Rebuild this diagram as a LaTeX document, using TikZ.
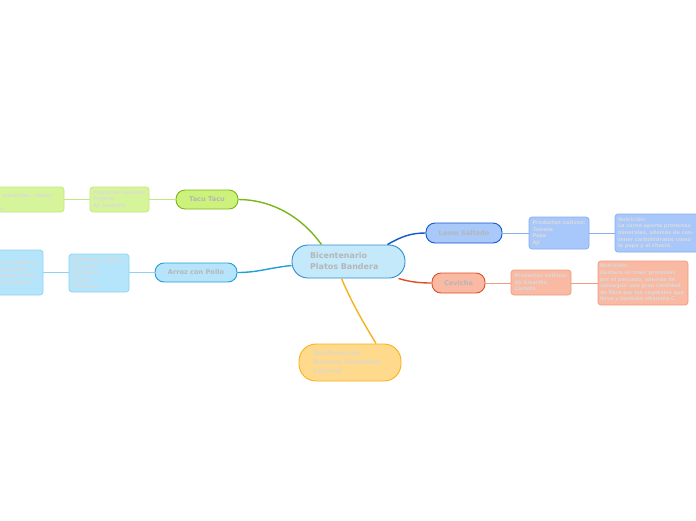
\documentclass[tikz,border=0pt]{standalone}
\usepackage{fontspec}
\setmainfont{DejaVu Sans}
\usetikzlibrary{calc}
\definecolor{maintext}{HTML}{B6B6B6}
\definecolor{subtext}{HTML}{DADADA}
\definecolor{reatext}{HTML}{E0D8C2}
\definecolor{cenfill}{HTML}{C4E9FA}\definecolor{cenline}{HTML}{2F8CCF}
\definecolor{tacfill}{HTML}{CDF27C}\definecolor{tacline}{HTML}{7CB518}
\definecolor{tacsub}{HTML}{D6F59A}\definecolor{tacsubl}{HTML}{C2E77E}
\definecolor{arrfill}{HTML}{B6E4FA}\definecolor{arrline}{HTML}{229EDB}
\definecolor{arrsub}{HTML}{B5E5FB}\definecolor{arrsubl}{HTML}{8ED2F2}
\definecolor{lomfill}{HTML}{A8C9FA}\definecolor{lomline}{HTML}{1456CC}
\definecolor{lomsub}{HTML}{A8C8FB}\definecolor{lomsubl}{HTML}{86AEF0}
\definecolor{cevfill}{HTML}{F9B9A2}\definecolor{cevline}{HTML}{E24E24}
\definecolor{cevsub}{HTML}{F9B9A2}\definecolor{cevsubl}{HTML}{F09C80}
\definecolor{reafill}{HTML}{FFD98C}\definecolor{realine}{HTML}{F7B21A}
\begin{document}
\begin{tikzpicture}[x=1pt,y=-1pt,
  topic/.style={draw, line width=0.9pt, inner sep=0pt, text=maintext,
    font=\fontsize{6.6}{8.5}\selectfont\bfseries},
  subbox/.style={draw, line width=0.7pt, rounded corners=3pt, inner xsep=0pt, inner ysep=0pt,
    align=left, text=subtext, font=\fontsize{5}{6.6}\selectfont\bfseries},
  branch/.style={line width=1.4pt},
  twig/.style={line width=0.7pt}]
\useasboundingbox (0,0) rectangle (696,520);
\clip (0,0) rectangle (696,520);

% central
\node[topic, fill=cenfill, draw=cenline, minimum width=113, minimum height=33,
  rounded corners=16pt, text width=77, align=left,
  font=\fontsize{8}{11}\selectfont\bfseries] (cen) at (348.5,261.5) {Bicentenario\\Platos Bandera};

% Tacu Tacu
\node[topic, fill=tacfill, draw=tacline, minimum width=62, minimum height=19,
  rounded corners=9pt] (tac) at (207,199.5) {Tacu Tacu};
\node[subbox, fill=tacsub, draw=tacsubl, minimum width=59, minimum height=25,
  text width=53] (tacp) at (119.5,199.5) {Productos nativos:\\*Frejoles\\*Ají Amarillo};
\node[subbox, fill=tacsub, draw=tacsubl, minimum width=96, minimum height=25,
  text width=88] (tacn) at (16,199.5) {Nutrición:\\Proteínas, minerales, vitaminas\\y proteínas.};

% Arroz con Pollo
\node[topic, fill=arrfill, draw=arrline, minimum width=82, minimum height=19,
  rounded corners=9pt] (arr) at (196,272.5) {Arroz con Pollo};
\node[subbox, fill=arrsub, draw=arrsubl, minimum width=60, minimum height=38,
  text width=53] (arrp) at (99,273) {Productos nativos:\\*Ají verde\\*Ají Panca\\*Choclo\\*Pimiento};
\node[subbox, fill=arrsub, draw=arrsubl, minimum width=92, minimum height=45,
  text width=84] (arrn) at (-3,272.5) {Nutrición:\\Al comer la carne, se obtiene\\hierro, al llevar vegetales\\se obtienen minerales y vita-\\minas; de la papa; carbohi-\\dratos.};

% Lomo Saltado
\node[topic, fill=lomfill, draw=lomline, minimum width=76, minimum height=20,
  rounded corners=9pt] (lom) at (464,233) {Lomo Saltado};
\node[subbox, fill=lomsub, draw=lomsubl, minimum width=60, minimum height=32,
  text width=53] (lomp) at (559,233) {Productos nativos:\\*Tomate\\*Papa\\*Ají};
\node[subbox, fill=lomsub, draw=lomsubl, minimum width=86, minimum height=38,
  text width=80] (lomn) at (658,233) {Nutrición:\\La carne aporta proteínas\\minerales, además de con-\\tener carbohidratos como\\la papa y el choclo.};

% Ceviche
\node[topic, fill=cevfill, draw=cevline, minimum width=53, minimum height=20,
  rounded corners=9pt] (cev) at (458.5,283) {Ceviche};
\node[subbox, fill=cevsub, draw=cevsubl, minimum width=60, minimum height=25,
  text width=53] (cevp) at (541,282.5) {Productos nativos:\\*Ají Amarillo\\*Camote};
\node[subbox, fill=cevsub, draw=cevsubl, minimum width=90, minimum height=44,
  text width=86] (cevn) at (643,283) {Nutrición:\\Destaca en traer proteínas\\por el pescado, además de\\conseguir una gran cantidad\\de fibra por los vegetales que\\lleva y también vitamina C.};

% Reafirmando
\node[topic, fill=reafill, draw=realine, minimum width=102, minimum height=37,
  rounded corners=17pt, text width=74, align=left, text=reatext,
  font=\fontsize{6.6}{9}\selectfont\bfseries] (rea) at (350,362.5) {Reafirmando\\Nuestra Identidad\\Cultural};

% branches
\draw[branch, draw=tacline] ([xshift=-27pt]cen.north) .. controls (298,212) and (266,199.5) .. (tac.east);
\draw[branch, draw=arrline] ([yshift=-4pt]cen.west) .. controls (268,268) and (258,272.5) .. (arr.east);
\draw[branch, draw=lomline] ([xshift=39pt]cen.north) .. controls (402,236) and (412,233) .. (lom.west);
\draw[branch, draw=cevline] ([xshift=50pt]cen.south) .. controls (410,282) and (420,283) .. (cev.west);
\draw[branch, draw=realine] ([xshift=-7pt]cen.south) .. controls (354,308) and (368,330) .. ([xshift=26pt]rea.north);

% twigs
\draw[twig, draw=tacsubl] (tac.west) -- (tacp.east);
\draw[twig, draw=tacsubl] (tacp.west) -- (tacn.east);
\draw[twig, draw=arrsubl] (arr.west) -- (arrp.east |- arr.west);
\draw[twig, draw=arrsubl] (arrp.west |- arr.west) -- (arrn.east |- arr.west);
\draw[twig, draw=lomsubl] (lom.east) -- (lomp.west);
\draw[twig, draw=lomsubl] (lomp.east) -- (lomn.west);
\draw[twig, draw=cevsubl] (cev.east) -- (cevp.west |- cev.east);
\draw[twig, draw=cevsubl] (cevp.east |- cev.east) -- (cevn.west |- cev.east);
\end{tikzpicture}
\end{document}
